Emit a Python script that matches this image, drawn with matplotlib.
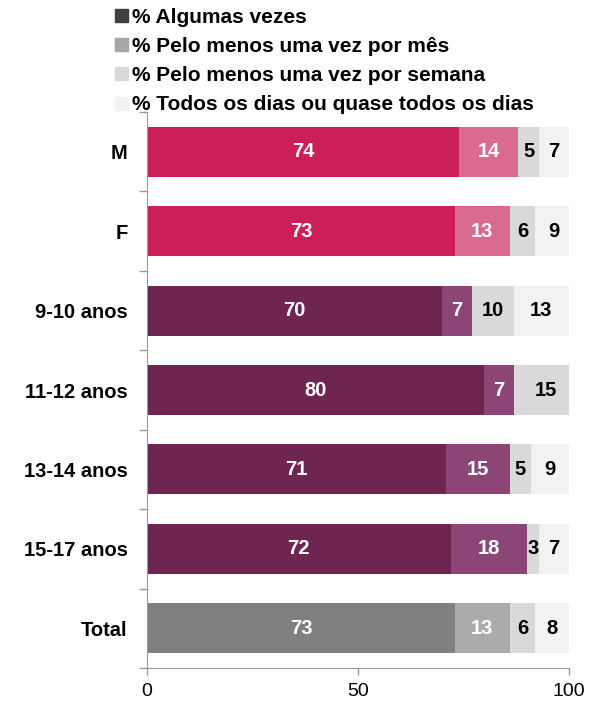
import matplotlib
matplotlib.use("Agg")
import matplotlib.pyplot as plt
from matplotlib.patches import Patch
from matplotlib.ticker import FixedLocator

plt.rcParams['font.family'] = ['Liberation Sans', 'DejaVu Sans']

# data
categories = ["M", "F", "9-10 anos", "11-12 anos", "13-14 anos", "15-17 anos", "Total"]
algumas = [74, 73, 70, 80, 71, 72, 73]
mes = [14, 13, 7, 7, 15, 18, 13]
semana = [5, 6, 10, 0, 5, 3, 6]
todos = [7, 9, 13, 15, 9, 7, 8]
legend_labels = ["% Algumas vezes", "% Pelo menos uma vez por mês",
                 "% Pelo menos uma vez por semana",
                 "% Todos os dias ou quase todos os dias"]

# colours per row: (first, second) segment
sex_cols = ("#CC1F58", "#DA6A8E")
age_cols = ("#6E2650", "#8B4677")
tot_cols = ("#808080", "#ABABAB")
row_cols = [sex_cols] * 2 + [age_cols] * 4 + [tot_cols]
c_semana = "#D9D9D9"
c_todos = "#F2F2F2"
# 11-12 anos has no "semana" segment, its 15 is drawn in the semana grey
todos_cols = [c_todos, c_todos, c_todos, c_semana, c_todos, c_todos, c_todos]

fig = plt.figure(figsize=(5.95, 7.04), dpi=100)
ax = fig.add_axes([0.247, 0.051, 0.709, 0.790])

y = list(range(len(categories)))
h = 0.63
left = [0] * len(y)
series = [algumas, mes, semana, todos]
for k, vals in enumerate(series):
    for i, v in enumerate(vals):
        if v == 0:
            continue
        if k < 2:
            col = row_cols[i][k]
        elif k == 2:
            col = c_semana
        else:
            col = todos_cols[i]
        ax.barh(y[i], v, left=left[i], height=h, color=col, edgecolor="none")
        tc = "white" if k < 2 else "black"
        ax.text(left[i] + v / 2, y[i], str(v), ha="center", va="center",
                color=tc, fontsize=14.5, fontweight="bold")
        left[i] += v

ax.set_xlim(0, 100)
ax.set_ylim(len(y) - 0.5, -0.5)
ax.set_xticks([0, 50, 100])
ax.tick_params(axis="x", labelsize=14, length=5, color="#999999", width=1, pad=6)
ax.set_yticks(y)
ax.set_yticklabels(categories, fontsize=14.5, fontweight="bold")
ax.tick_params(axis="y", which="major", length=0, pad=14)
ax.yaxis.set_minor_locator(FixedLocator([i - 0.5 for i in range(len(y) + 1)]))
ax.tick_params(axis="y", which="minor", length=6, color="#999999", width=1)

for s in ["top", "right"]:
    ax.spines[s].set_visible(False)
for s in ["left", "bottom"]:
    ax.spines[s].set_color("#999999")

handles = [Patch(color=c) for c in ["#404040", "#A6A6A6", c_semana, c_todos]]
leg = fig.legend(handles, legend_labels, loc="upper left", bbox_to_anchor=(0.18, 1.0007),
                 frameon=False, prop={"size": 15, "weight": "bold"},
                 handlelength=0.58, handleheight=0.58, handletextpad=0.2,
                 labelspacing=0.49, borderaxespad=0)

fig.savefig("out.png", dpi=100)
